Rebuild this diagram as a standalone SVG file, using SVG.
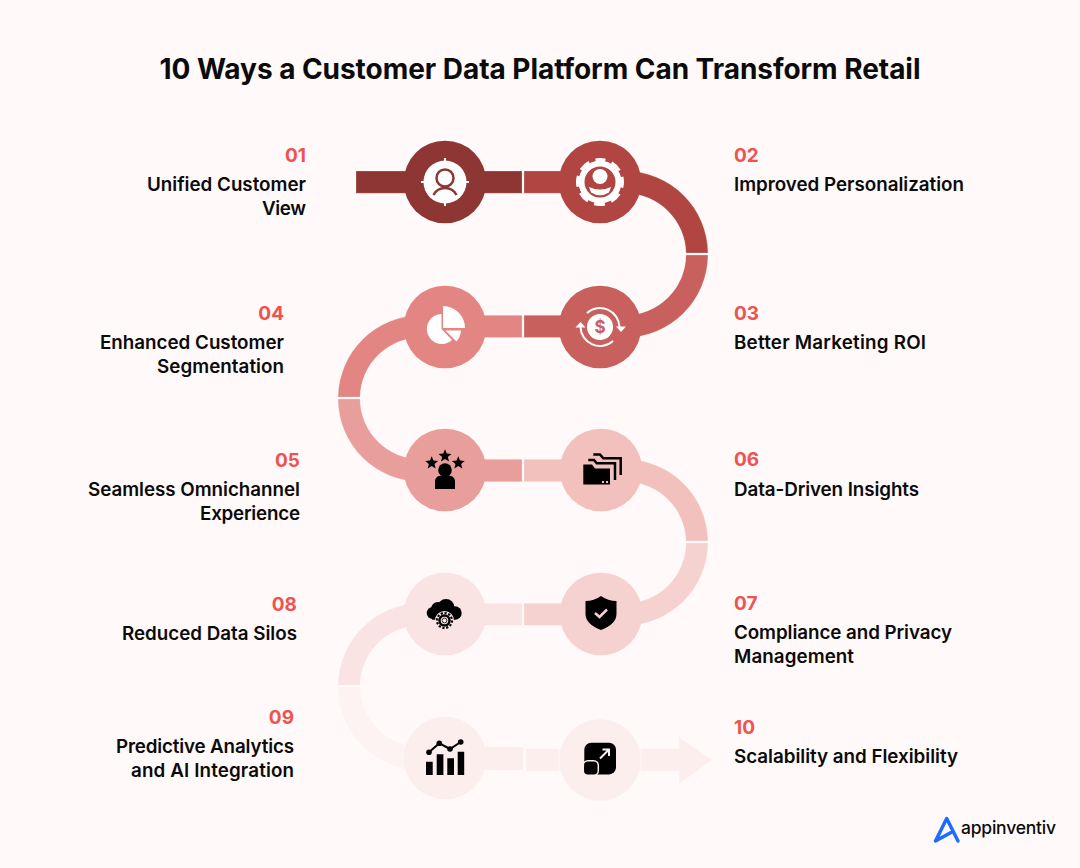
<svg xmlns="http://www.w3.org/2000/svg" width="1080" height="868" viewBox="0 0 1080 868">
<style>
text{font-family:Inter,"Liberation Sans",sans-serif}
.title{font-size:28px;font-weight:700;fill:#0b0b0b}
.num{font-size:19px;font-weight:700;fill:#ef5350}
.lab{font-size:18.8px;font-weight:600;fill:#0b0b0b}
.e{text-anchor:end}
.seg{stroke:#fff;stroke-opacity:.4;stroke-width:.6}
</style>
<defs>
<path id="star" d="M0-6.800L1.730-2.400L6.450-2.100L2.800.9L4 5.500L0 2.950L-4 5.500L-2.800.9L-6.450-2.100L-1.730-2.400Z"/>
</defs>
<rect width="1080" height="868" fill="#fff9f9"/>
<text class="title" x="540" y="79" text-anchor="middle" textLength="761">10 Ways a Customer Data Platform Can Transform Retail</text>
<g id="connectors">
<path class="seg" fill="#8e3633" d="M356 171H522V193.300H356Z"/>
<path class="seg" fill="#b04542" d="M524 171H625A83 83 0 0 1 708 253H686A61 61 0 0 0 625 193.300H524Z"/>
<path class="seg" fill="#c8615d" d="M686 255H708A83 83 0 0 1 625 337.500H524V315.300H625A61 61 0 0 0 686 255Z"/>
<path class="seg" fill="#e38582" d="M522 315.300H421A83 83 0 0 0 338 397H360A61 61 0 0 1 421 337.500H522Z"/>
<path class="seg" fill="#e89e9b" d="M338 399H360A61 61 0 0 0 421 459.300H522V481.700H421A83 83 0 0 1 338 399Z"/>
<path class="seg" fill="#f2c1be" d="M524 459.300H625A83 83 0 0 1 708 541H686A61 61 0 0 0 625 481.700H524Z"/>
<path class="seg" fill="#f5d2d0" d="M686 543H708A83 83 0 0 1 625 625.500H524V603.300H625A61 61 0 0 0 686 543Z"/>
<path class="seg" fill="#fae3e3" d="M522 603.300H421A83 83 0 0 0 338 685H360A61 61 0 0 1 421 625.500H522Z"/>
<path fill="#fef3f3" d="M338 687H360A61 61 0 0 0 421 747H470V770H421A83 83 0 0 1 338 687Z"/>
<path fill="#fdeeee" d="M470 747H523V770H470Z"/>
<path class="seg" fill="#fdeeee" d="M526 748.500H679V737L712 760L679 784V771H526Z"/>
</g>
<g id="node-01">
<circle cx="445" cy="182" r="41.300" fill="#8e3633"/>
<circle cx="445" cy="182" r="21.500" fill="#fff"/>
<path d="M445 158V206M421 182H469" stroke="#fff" stroke-width="2"/>
<circle cx="445" cy="178" r="8.500" fill="none" stroke="#8e3633" stroke-width="2.500"/>
<path d="M433.500 195A13 13 0 0 1 456.500 195" fill="none" stroke="#8e3633" stroke-width="2.500"/>
<text class="num e" x="306" y="162">01</text>
<text class="lab e" x="306" y="191" textLength="159">Unified Customer</text>
<text class="lab e" x="306" y="215" textLength="44">View</text>
</g>
<g id="node-02">
<circle cx="600" cy="182" r="41.300" fill="#b04542"/>
<circle cx="600" cy="182" r="21.500" fill="#fff"/>
<circle cx="600" cy="182" r="22.500" fill="none" stroke="#fff" stroke-width="3" stroke-dasharray="11 6.670" stroke-dashoffset="5.500" transform="rotate(-90 600 182)"/>
<circle cx="600" cy="182" r="15.500" fill="#b04542"/>
<circle cx="600" cy="176.500" r="7.500" fill="#fff"/>
<path d="M589 187Q600 192 611 187L609 192.500Q600 198 591 192.500Z" fill="#fff"/>
<text class="num" x="734" y="162">02</text>
<text class="lab" x="734" y="191" textLength="230">Improved Personalization</text>
</g>
<g id="node-03">
<circle cx="600" cy="327" r="41.300" fill="#c8615d"/>
<circle cx="600" cy="327" r="13" fill="#fff"/>
<path d="M587 313A19.500 19.500 0 0 1 619.500 327M613 341A19.500 19.500 0 0 1 580.500 327" fill="none" stroke="#fff" stroke-width="2"/>
<path d="M616 326.500h10l-5 5.500zM575.500 327.500h10l-5-5.500z" fill="#fff"/>
<text x="600" y="333" text-anchor="middle" font-size="17" font-weight="700" fill="#c8615d">$</text>
<text class="num" x="734" y="320">03</text>
<text class="lab" x="734" y="349" textLength="192">Better Marketing ROI</text>
</g>
<g id="node-04">
<circle cx="445" cy="327" r="41.300" fill="#e38582"/>
<path d="M441.500 314V329L452 340A15 15 0 1 1 441.500 314Z" fill="#fff"/>
<path d="M443 306A22 22 0 0 1 465 328H443Z" fill="#fff"/>
<path d="M445.500 330.500H461A19 19 0 0 1 456.500 341.500Z" fill="#fff"/>
<text class="num e" x="284" y="320">04</text>
<text class="lab e" x="284" y="349" textLength="184">Enhanced Customer</text>
<text class="lab e" x="284" y="373" textLength="127">Segmentation</text>
</g>
<g id="node-05">
<circle cx="445" cy="470" r="41.300" fill="#e89e9b"/>
<circle cx="445" cy="470" r="6.800"/>
<path d="M435 489V481Q435 475 445 475Q455 475 455 481V489Z"/>
<use href="#star" x="445" y="456"/>
<use href="#star" x="431.700" y="463"/>
<use href="#star" x="458.300" y="463"/>
<text class="num e" x="300" y="467">05</text>
<text class="lab e" x="300" y="496" textLength="212">Seamless Omnichannel</text>
<text class="lab e" x="300" y="520" textLength="100">Experience</text>
</g>
<g id="node-06">
<circle cx="601" cy="470" r="41.300" fill="#f2c1be"/>
<path d="M583.300 464.500H592L595 468.500H610V484.500H583.300Z"/>
<path d="M588.300 460H594L596.700 463.300H615V480" fill="none" stroke="#000" stroke-width="2.500"/>
<path d="M593.300 454.500H600L603.300 458.300H620.700V475" fill="none" stroke="#000" stroke-width="2.500"/>
<path d="M602 481h2v2h-2zM606 481h2v2h-2z" fill="#f2c1be"/>
<text class="num" x="734" y="466">06</text>
<text class="lab" x="734" y="496" textLength="185">Data-Driven Insights</text>
</g>
<g id="node-07">
<circle cx="601" cy="614" r="41.300" fill="#f5d2d0"/>
<path d="M601 596Q608 601 616.500 601V614Q616.500 624 601 630Q585.500 624 585.500 614V601Q594 601 601 596Z"/>
<path d="M595 613l4.500 4 7.500-7.500" fill="none" stroke="#f5d2d0" stroke-width="2.500"/>
<text class="num" x="734" y="610">07</text>
<text class="lab" x="734" y="639" textLength="218">Compliance and Privacy</text>
<text class="lab" x="734" y="663" textLength="120">Management</text>
</g>
<g id="node-08">
<circle cx="445" cy="614" r="41.300" fill="#fae3e3"/>
<circle cx="432.700" cy="613" r="6"/><circle cx="438" cy="609" r="7"/><circle cx="446" cy="607.500" r="8.500"/><circle cx="455" cy="613" r="6.700"/>
<rect x="432" y="612" width="23" height="7.700"/>
<circle cx="444.500" cy="620.500" r="9.500" fill="#fae3e3"/>
<circle cx="444.500" cy="620.500" r="7.500" fill="none" stroke="#000" stroke-width="2.200" stroke-dasharray="2.200 1.700"/>
<circle cx="444.500" cy="620.500" r="6.200"/>
<circle cx="444.500" cy="620.500" r="3.800" fill="#fae3e3"/>
<circle cx="444.500" cy="620.500" r="2.400" fill="none" stroke="#000" stroke-width=".8"/>
<text class="num e" x="297" y="611">08</text>
<text class="lab e" x="297" y="640" textLength="175">Reduced Data Silos</text>
</g>
<g id="node-09">
<circle cx="445" cy="758" r="41.300" fill="#fdeeee"/>
<path d="M426 761.700h6.700V775H426zM436.700 754.300h6.700V775h-6.700zM447.300 758.300h6.700V775h-6.700zM457.700 751.700h6.500V775h-6.500z"/>
<path d="M429 752.300L439.300 743.300L450 749L460.700 742" fill="none" stroke="#000" stroke-width="2"/>
<circle cx="429" cy="752.300" r="2.800"/><circle cx="439.300" cy="743.300" r="2.800"/><circle cx="450" cy="749" r="2.800"/><circle cx="460.700" cy="742" r="2.800"/>
<text class="num e" x="294" y="724">09</text>
<text class="lab e" x="294" y="753" textLength="178">Predictive Analytics</text>
<text class="lab e" x="294" y="777" textLength="163">and AI Integration</text>
</g>
<g id="node-10">
<circle cx="600" cy="760" r="41.300" fill="#fdeeee" stroke="#fff" stroke-opacity=".6"/>
<rect x="584.300" y="742.700" width="31.700" height="31.700" rx="7"/>
<rect x="583.300" y="760.700" width="15" height="14.500" rx="4.500" fill="#000" stroke="#fdeeee" stroke-width="1.500"/>
<path d="M600 758.500L608.500 750M602.500 749.500H609V756" fill="none" stroke="#fdeeee" stroke-width="2"/>
<text class="num" x="734" y="734">10</text>
<text class="lab" x="734" y="763" textLength="224">Scalability and Flexibility</text>
</g>
<g id="logo">
<path d="M935.500 841L946.700 818.500L958 841M935.500 841L951 832.500" fill="none" stroke="#1f6bff" stroke-width="3.500" stroke-linejoin="round" stroke-linecap="round"/>
<text x="961" y="833.500" font-size="17.500" font-weight="500" fill="#0b0b0b" textLength="95">appinventiv</text>
</g>
</svg>
